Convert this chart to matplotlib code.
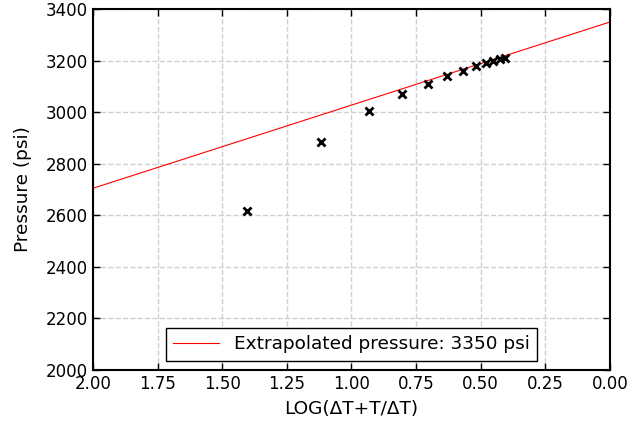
import matplotlib
matplotlib.use('Agg')
import matplotlib.pyplot as plt
import numpy as np

# Horner plot data
log_t = [1.405, 1.119, 0.931, 0.803, 0.704, 0.632, 0.570, 0.518, 0.480, 0.451, 0.426, 0.406]
pressure = [2615, 2885, 3003, 3072, 3108, 3140, 3160, 3180, 3190, 3198, 3206, 3212]

fit_x = [2.0, 0.0]
fit_y = [2705, 3350]
p_star = 3350

plt.rcParams['font.size'] = 12
plt.rcParams['xtick.direction'] = 'in'
plt.rcParams['ytick.direction'] = 'in'

fig = plt.figure(figsize=(6.31, 4.33), dpi=100)
ax = fig.add_axes([0.1474, 0.1455, 0.8193, 0.8335])

ax.plot(fit_x, fit_y, color='red', lw=0.8, label='Extrapolated pressure: %d psi' % p_star)
ax.plot(log_t, pressure, 'x', color='black', ms=6, mew=2)

ax.set_xlim(2.0, 0.0)
ax.set_ylim(2000, 3400)
ax.set_xticks(np.arange(0, 2.01, 0.25))
ax.set_yticks(np.arange(2000, 3401, 200))
ax.tick_params(top=True, right=True, length=5, width=1, labelsize=12)
for s in ax.spines.values():
    s.set_linewidth(1.5)
ax.grid(True, ls='--', color='#d0d0d0', lw=1)
ax.set_xlabel('LOG(ΔT+T/ΔT)', fontsize=13.3, labelpad=5)
ax.set_ylabel('Pressure (psi)', fontsize=13.3, labelpad=10)

leg = ax.legend(loc='lower center', fancybox=False, edgecolor='black', framealpha=1,
                handlelength=2.5, fontsize=13.3)
leg.get_frame().set_linewidth(1)

fig.savefig('out.png', dpi=100)
